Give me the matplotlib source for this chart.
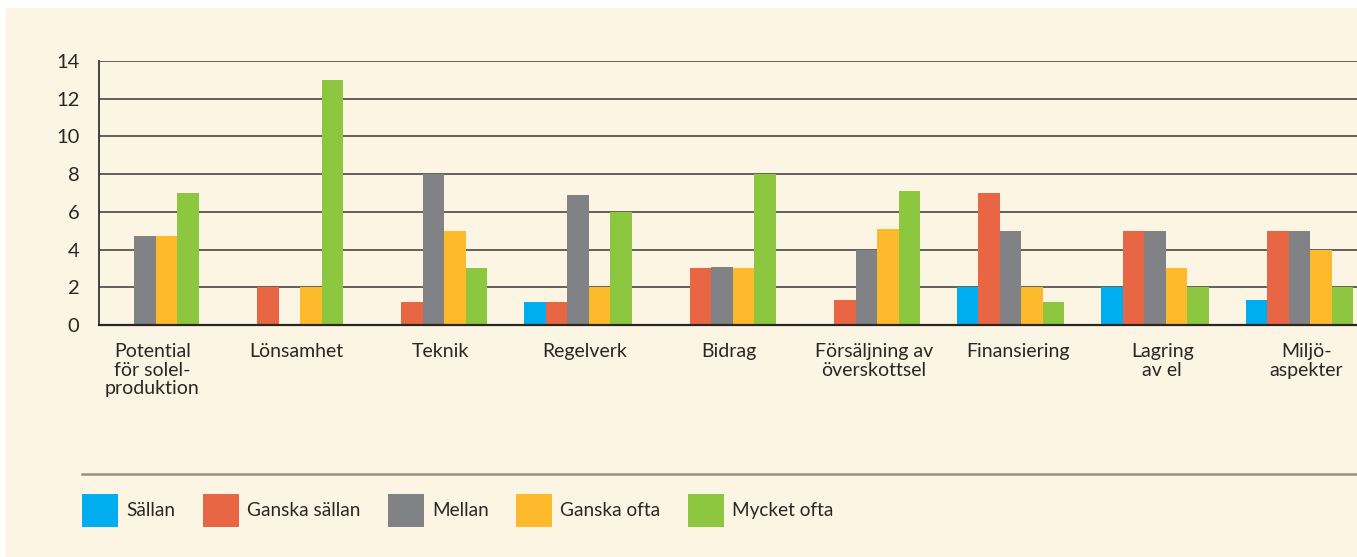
import matplotlib
matplotlib.use("Agg")
import matplotlib.pyplot as plt
import numpy as np
import matplotlib.transforms as mtransforms
from matplotlib.patches import Rectangle
from matplotlib.lines import Line2D

plt.rcParams['font.family'] = ['Lato', 'DejaVu Sans']

categories = ["Potential\nför solel-\nproduktion", "Lönsamhet", "Teknik", "Regelverk",
              "Bidrag", "Försäljning av\növerskottsel", "Finansiering", "Lagring\nav el",
              "Miljö-\naspekter"]
series_names = ["Sällan", "Ganska sällan", "Mellan", "Ganska ofta", "Mycket ofta"]
sallan        = [0, 0, 0, 1.2, 0, 0, 2, 2, 1.3]
ganska_sallan = [0, 2, 1.2, 1.2, 3, 1.3, 7, 5, 5]
mellan        = [4.7, 0, 8, 6.9, 3.05, 4, 5, 5, 5]
ganska_ofta   = [4.7, 2, 5, 2, 3, 5.1, 2, 3, 4]
mycket_ofta   = [7, 13, 3, 6, 8, 7.1, 1.2, 2, 2]
yticks = [0, 2, 4, 6, 8, 10, 12, 14]

colors = ["#00aeef", "#e96645", "#818285", "#fdba2d", "#8dc63f"]
bg = "#fdf5e4"
text_color = "#2b2622"
W, H = 1357, 557

fig = plt.figure(figsize=(W / 100, H / 100), dpi=100, facecolor="white")
fig.patches.append(Rectangle((6 / W, 0), 1 - 6 / W, 1 - 8 / H, transform=fig.transFigure,
                             facecolor=bg, edgecolor="none", zorder=-10))

ax = fig.add_axes([99 / W, 1 - 325 / H, 1 - 99 / W, (325 - 61) / H])
ax.set_facecolor("none")

series = [sallan, ganska_sallan, mellan, ganska_ofta, mycket_ofta]
x = np.arange(len(categories))
bw = 0.149
for i, (vals, c, name) in enumerate(zip(series, colors, series_names)):
    ax.bar(x + (i - 2) * bw, vals, width=bw, color=c, label=name, zorder=3, linewidth=0)

ax.set_xlim(-0.319, 8.40)
ax.set_ylim(0, 14)
ax.set_yticks(yticks)
ax.set_yticklabels([str(t) for t in yticks], fontsize=14.5, color=text_color)
ax.tick_params(axis="y", length=0, pad=14)
ax.set_xticks([])
ax.yaxis.grid(True, color="#5a524d", linewidth=1.3, zorder=1)
for s in ["top", "right"]:
    ax.spines[s].set_visible(False)
ax.spines["left"].set_color("#3a3430")
ax.spines["left"].set_linewidth(1.3)
ax.spines["bottom"].set_color(text_color)
ax.spines["bottom"].set_linewidth(1.6)
ax.spines["bottom"].set_zorder(4)

trans = mtransforms.blended_transform_factory(ax.transData, fig.transFigure)
for xi, lab in zip(x, categories):
    ax.text(xi + 0.05, 1 - 343 / H, lab, transform=trans, ha="center", va="top",
            multialignment="center", fontsize=14, color=text_color, linespacing=1.12)

fig.add_artist(Line2D([82 / W, 1], [1 - 474 / H, 1 - 474 / H], transform=fig.transFigure,
                      color="#9b8f85", linewidth=1.8))

handles = [Rectangle((0, 0), 1, 1, facecolor=c, edgecolor="none") for c in colors]
fig.legend(handles, series_names, loc="upper left", bbox_to_anchor=(82 / W, 1 - 494 / H),
           ncol=5, frameon=False, fontsize=13.7, handlelength=1.9, handleheight=2.3,
           handletextpad=0.42, columnspacing=1.45, borderpad=0, borderaxespad=0,
           labelcolor=text_color)

fig.savefig("out.png", dpi=100, facecolor="white")
